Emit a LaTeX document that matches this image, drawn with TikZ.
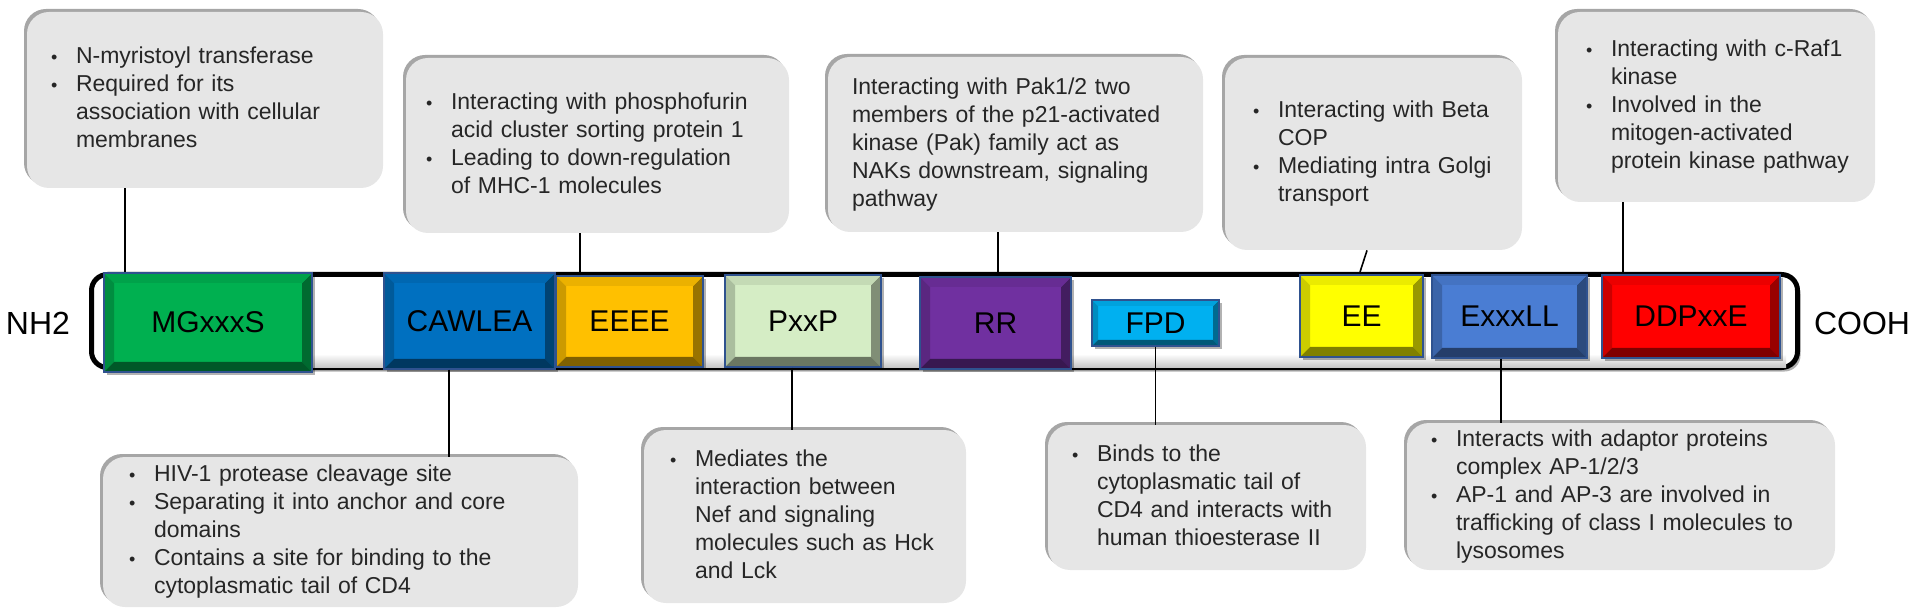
\documentclass[tikz,border=0pt]{standalone}
\usepackage{fontspec}
\setmainfont{Liberation Sans}
\usetikzlibrary{shadows}
\definecolor{boxgray}{HTML}{E6E6E6}
\definecolor{cmg}{HTML}{00B050}
\definecolor{ccaw}{HTML}{0070C0}
\definecolor{ceeee}{HTML}{FFC000}
\definecolor{cpxxp}{HTML}{D5EDC5}
\definecolor{crr}{HTML}{7030A0}
\definecolor{cfpd}{HTML}{00B0F0}
\definecolor{cee}{HTML}{FFFF00}
\definecolor{cexl}{HTML}{4A7DD3}
\definecolor{cdd}{HTML}{FF0000}
\definecolor{blkline}{HTML}{2F528F}
\newcommand{\PB}{path picture bounding box}
\newcommand{\bulletmark}{{\fontsize{9}{9}\selectfont\textbullet}}
\tikzset{
  blk/.style n args={4}{fill=#1, draw=blkline, line width=0.6pt, inner sep=0pt,
     minimum width=#2, minimum height=#3, font=\fontsize{15}{18}\selectfont, text=black,
     drop shadow={shadow xshift=1.5pt, shadow yshift=-1.5pt, fill=black, opacity=0.3},
     path picture={
       \fill[#1!80!black] (\PB.north west) -- ([xshift=#4,yshift=-#4]\PB.north west) -- ([xshift=#4,yshift=#4]\PB.south west) -- (\PB.south west) -- cycle;
       \fill[#1!60!black] (\PB.north east) -- ([xshift=-#4,yshift=-#4]\PB.north east) -- ([xshift=-#4,yshift=#4]\PB.south east) -- (\PB.south east) -- cycle;
       \fill[#1!50!black] (\PB.south west) -- ([xshift=#4,yshift=#4]\PB.south west) -- ([xshift=-#4,yshift=#4]\PB.south east) -- (\PB.south east) -- cycle;
       \fill[#1!92!black] (\PB.north west) -- ([xshift=#4,yshift=-#4]\PB.north west) -- ([xshift=-#4,yshift=-#4]\PB.north east) -- (\PB.north east) -- cycle;
     }},
  tbox/.style={fill=boxgray, rounded corners=11pt, inner xsep=12pt, inner ysep=0pt,
     align=left, font=\fontsize{11.5}{14}\selectfont, text=black!85,
     drop shadow={shadow xshift=-1.5pt, shadow yshift=1.5pt, fill=black, opacity=0.35}},
  conn/.style={draw=black, line width=0.8pt},
  endlbl/.style={font=\fontsize{16}{19}\selectfont, inner sep=0pt},
}
\begin{document}
\begin{tikzpicture}[x=0.5pt, y=-0.5pt]
\useasboundingbox (0,0) rectangle (1920,614);

% protein bar
\node[draw=black, line width=2.5pt, rounded corners=8pt, fill=white,
      minimum width=853pt, minimum height=46.5pt, inner sep=0pt,
      drop shadow={shadow xshift=1.5pt, shadow yshift=-2pt, fill=black, opacity=0.3}] (bar) at (944.5,321) {};
% inner shading of the bar
\shade[top color=white, bottom color=gray!45]
  ([xshift=7pt,yshift=8pt]bar.south west) rectangle ([xshift=-7pt,yshift=1.3pt]bar.south east);

\node[endlbl] (nh2) at (38,323) {NH2};
\node[endlbl] (cooh) at (1862,323) {COOH};

% domains
\node[blk={cmg}{104pt}{49.5pt}{5pt}] (mg) at (208,322.5) {MGxxxS};
\node[blk={ccaw}{85.5pt}{48pt}{5pt}] (caw) at (469.5,321) {CAWLEA};
\node[blk={ceeee}{73.5pt}{45.5pt}{5pt}] (eeee) at (629.5,321.5) {EEEE};
\node[blk={cpxxp}{78pt}{46pt}{5pt}] (pxxp) at (803,321) {PxxP};
\node[blk={crr}{75.5pt}{46pt}{5pt}] (rr) at (995.5,323) {RR};
\node[blk={cfpd}{63.5pt}{23pt}{3pt}] (fpd) at (1155.5,323) {FPD};
\node[blk={cee}{61.5pt}{41pt}{5pt}] (ee) at (1361.5,316) {EE};
\node[blk={cexl}{77.5pt}{41.5pt}{5pt}] (exl) at (1509.5,316.5) {ExxxLL};
\node[blk={cdd}{89pt}{41.5pt}{5pt}] (dd) at (1691,316.5) {DDPxxE};

% upper boxes
\node[tbox, text width=154pt, minimum height=88pt] (box1) at (205,100) {%
\begin{tabular}{@{}p{12.5pt}@{}l@{}}
\bulletmark & N-myristoyl transferase\\
\bulletmark & Required for its\\
 & association with cellular\\
 & membranes
\end{tabular}};
\node[tbox, inner xsep=10pt, text width=171.5pt, minimum height=87.5pt] (box2) at (597.5,145.5) {%
\begin{tabular}{@{}p{12.5pt}@{}l@{}}
\bulletmark & Interacting with phosphofurin\\
 & acid cluster sorting protein 1\\
\bulletmark & Leading to down-regulation\\
 & of MHC-1 molecules
\end{tabular}};
\node[tbox, text width=163.5pt, minimum height=87.5pt] (box3) at (1015.5,144.5) {%
\begin{tabular}{@{}l@{}}
Interacting with Pak1/2 two\\
members of the p21-activated\\
kinase (Pak) family act as\\
NAKs downstream, signaling\\
pathway
\end{tabular}};
\node[tbox, inner xsep=14pt, text width=120.5pt, minimum height=96pt] (box4) at (1373.5,154) {%
\begin{tabular}{@{}p{12.5pt}@{}l@{}}
\bulletmark & Interacting with Beta\\
 & COP\\
\bulletmark & Mediating intra Golgi\\
 & transport
\end{tabular}};
\node[tbox, inner xsep=14pt, text width=130.5pt, minimum height=95pt] (box5) at (1716.5,107) {%
\begin{tabular}{@{}p{12.5pt}@{}l@{}}
\bulletmark & Interacting with c-Raf1\\
 & kinase\\
\bulletmark & Involved in the\\
 & mitogen-activated\\
 & protein kinase pathway
\end{tabular}};

% lower boxes
\node[tbox, inner xsep=13pt, text width=211.5pt, minimum height=75pt] (box6) at (340.5,532) {%
\begin{tabular}{@{}p{12.5pt}@{}l@{}}
\bulletmark & HIV-1 protease cleavage site\\
\bulletmark & Separating it into anchor and core\\
 & domains\\
\bulletmark & Contains a site for binding to the\\
 & cytoplasmatic tail of CD4
\end{tabular}};
\node[tbox, inner xsep=13pt, text width=135pt, minimum height=86.5pt] (box7) at (805,516.5) {%
\begin{tabular}{@{}p{12.5pt}@{}l@{}}
\bulletmark & Mediates the\\
 & interaction between\\
 & Nef and signaling\\
 & molecules such as Hck\\
 & and Lck
\end{tabular}};
\node[tbox, text width=135pt, minimum height=72.5pt] (box8) at (1207,497.5) {%
\begin{tabular}{@{}p{12.5pt}@{}l@{}}
\bulletmark & Binds to the\\
 & cytoplasmatic tail of\\
 & CD4 and interacts with\\
 & human thioesterase II
\end{tabular}};
\node[tbox, text width=190pt, minimum height=73.5pt] (box9) at (1621,496.5) {%
\begin{tabular}{@{}p{12.5pt}@{}l@{}}
\bulletmark & Interacts with adaptor proteins\\
 & complex AP-1/2/3\\
\bulletmark & AP-1 and AP-3 are involved in\\
 & trafficking of class I molecules to\\
 & lysosomes
\end{tabular}};

% connector x positions
\coordinate (p1) at (125,0);
\coordinate (p2) at (580,0);
\coordinate (p3) at (998,0);
\coordinate (p4a) at (1367,0);
\coordinate (p4b) at (1360,0);
\coordinate (p5) at (1623,0);
\coordinate (q1) at (449,0);
\coordinate (q2) at (792,0);
\coordinate (q4) at (1501,0);

\draw[conn] (box1.south -| p1) -- (bar.north -| p1);
\draw[conn] (box2.south -| p2) -- (bar.north -| p2);
\draw[conn] (box3.south -| p3) -- (bar.north -| p3);
\draw[conn] (box4.south -| p4a) -- (bar.north -| p4b);
\draw[conn] (box5.south -| p5) -- (bar.north -| p5);
\draw[conn] (caw.south -| q1) -- (box6.north -| q1);
\draw[conn] (pxxp.south -| q2) -- (box7.north -| q2);
\draw[conn] (fpd.south) -- (fpd.south |- box8.north);
\draw[conn] (exl.south -| q4) -- (box9.north -| q4);
\end{tikzpicture}
\end{document}
